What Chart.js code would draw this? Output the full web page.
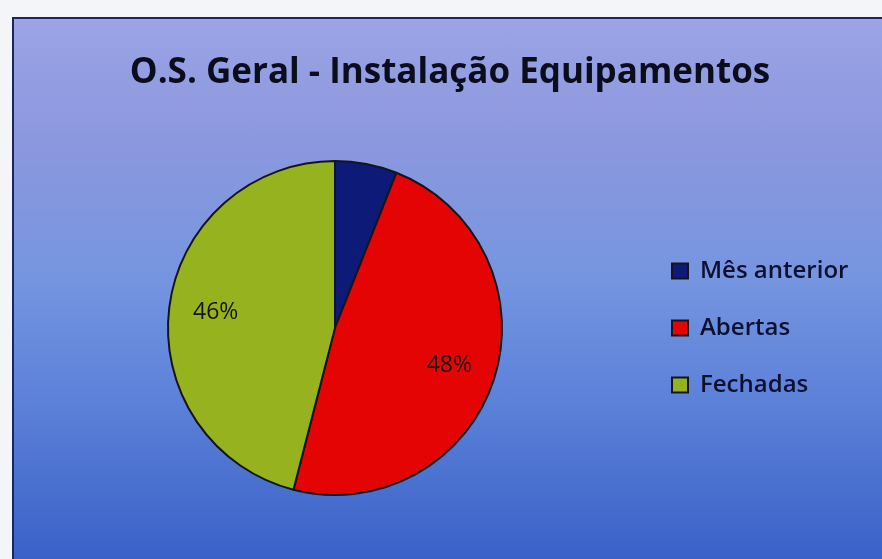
<!DOCTYPE html>
<html>
<head>
<meta charset="utf-8">
<script src="https://cdn.jsdelivr.net/npm/chart.js@4/dist/chart.umd.min.js"></script>
<style>
  html, body { margin: 0; padding: 0; background: #f3f5f8; }
  body { width: 882px; height: 559px; position: relative; overflow: hidden; }
  #panel {
    position: absolute; left: 12px; top: 17px; width: 870px; height: 542px;
    box-sizing: border-box;
    border-top: 2px solid #1b2660; border-left: 2px solid #1b2660;
    background: linear-gradient(to bottom, #9aa4e6 0%, #8c98de 22%, #7595e0 48%, #5a80d8 72%, #3a61c7 100%);
  }
  #chart { position: absolute; left: 31px; top: 17px; }
</style>
</head>
<body>
<div id="panel"></div>
<canvas id="chart" width="838" height="542"></canvas>
<script>
  const TITLE = "O.S. Geral - Instalação Equipamentos";
  const categories = ["Mês anterior", "Abertas", "Fechadas"];
  const percentages = [6, 48, 46];
  const sliceColors = ["#0e1a78", "#e50404", "#97b21f"];

  const LEGEND_W = 230;
  const FONT = "'Open Sans', Lato, sans-serif";

  // Legend keeps a fixed width so the pie sits left of centre, like the original
  const legendWidth = {
    id: "legendWidth",
    afterInit(chart) {
      const legend = chart.legend;
      if (!legend || legend._fixedWidth) return;
      const fit = legend.fit;
      legend.fit = function () {
        fit.call(this);
        this.width = LEGEND_W;
      };
      legend._fixedWidth = true;
    }
  };

  // Percent labels inside the larger slices
  const sliceLabels = {
    id: "sliceLabels",
    afterDatasetsDraw(chart) {
      const { ctx } = chart;
      const meta = chart.getDatasetMeta(0);
      ctx.save();
      ctx.font = "23px " + FONT;
      ctx.fillStyle = "#15130f";
      ctx.textAlign = "center";
      ctx.textBaseline = "middle";
      meta.data.forEach((arc, i) => {
        const v = percentages[i];
        if (v < 10) return;
        const p = arc.getProps(["x", "y", "startAngle", "endAngle", "outerRadius"], true);
        const mid = (p.startAngle + p.endAngle) / 2;
        const r = p.outerRadius * 0.72;
        ctx.fillText(v + "%", p.x + Math.cos(mid) * r, p.y + Math.sin(mid) * r);
      });
      ctx.restore();
    }
  };

  function draw() {
    new Chart(document.getElementById("chart"), {
      type: "pie",
      data: {
        labels: categories,
        datasets: [{
          data: percentages,
          backgroundColor: sliceColors,
          borderColor: "#14151c",
          borderWidth: 2
        }]
      },
      options: {
        responsive: false,
        animation: false,
        layout: { padding: { left: 0, right: 0, top: 0, bottom: 63 } },
        plugins: {
          title: {
            display: true,
            text: TITLE,
            color: "#0b0d1c",
            font: { family: FONT, size: 35, weight: "bold" },
            padding: { top: 35, bottom: 66 }
          },
          legend: {
            position: "right",
            fullSize: false,
            labels: {
              color: "#0d1030",
              font: { family: FONT, size: 24, weight: "600" },
              boxWidth: 16,
              boxHeight: 15,
              padding: 33
            }
          },
          tooltip: { enabled: false }
        }
      },
      plugins: [legendWidth, sliceLabels]
    });
  }

  if (document.fonts && document.fonts.load) {
    Promise.all([
      document.fonts.load("bold 35px 'Open Sans'"),
      document.fonts.load("600 24px 'Open Sans'"),
      document.fonts.load("23px 'Open Sans'")
    ]).then(draw, draw);
  } else {
    draw();
  }
</script>
</body>
</html>
